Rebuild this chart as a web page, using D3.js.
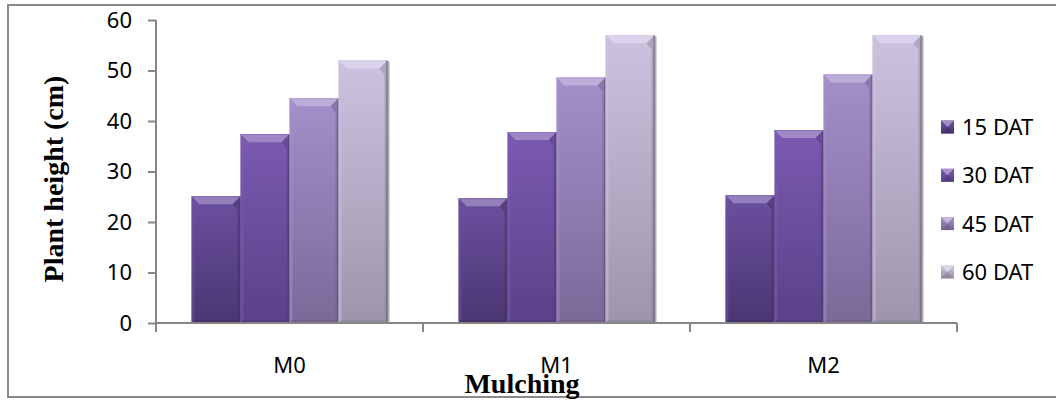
<!DOCTYPE html>
<html>
<head>
<meta charset="utf-8">
<script src="https://cdn.jsdelivr.net/npm/d3@7/dist/d3.min.js"></script>
<style>
  html, body { margin: 0; padding: 0; background: #fff; }
  svg { display: block; }
</style>
</head>
<body>
<svg id="chart" width="1056" height="400"></svg>
<script>
// Plant height by mulching treatment and days after transplanting
const categories = ["M0", "M1", "M2"];
const seriesNames = ["15 DAT", "30 DAT", "45 DAT", "60 DAT"];
const dat15 = [25.1, 24.7, 25.3];
const dat30 = [37.4, 37.8, 38.2];
const dat45 = [44.5, 48.6, 49.2];
const dat60 = [52.0, 57.0, 57.0];
const yTicks = [0, 10, 20, 30, 40, 50, 60];
const yTitle = "Plant height (cm)";
const xTitle = "Mulching";

const seriesValues = [dat15, dat30, dat45, dat60];

// gradient colours per series: top of bar, bottom of bar
const palette = [
  { top: "#6b50a0", bottom: "#4b3672" },
  { top: "#7b5ab1", bottom: "#5a4188" },
  { top: "#a48fca", bottom: "#7b6999" },
  { top: "#ccc2e0", bottom: "#9e95ac" }
];

const svg = d3.select("#chart");
const defs = svg.append("defs");

palette.forEach((p, i) => {
  const g = defs.append("linearGradient")
    .attr("id", "grad" + i).attr("x1", 0).attr("y1", 0).attr("x2", 0).attr("y2", 1);
  g.append("stop").attr("offset", "0%").attr("stop-color", p.top);
  g.append("stop").attr("offset", "100%").attr("stop-color", p.bottom);
});

// outer frame
svg.append("path")
  .attr("d", "M1060,5 H8 V397 H1060")
  .attr("fill", "none").attr("stroke", "#8a8a8a").attr("stroke-width", 2);

const plot = { left: 156, right: 957, top: 20, bottom: 323 };

const y = d3.scaleLinear().domain([0, 60]).range([plot.bottom, plot.top]);
const x0 = d3.scaleBand().domain(categories).range([plot.left, plot.right]);
const groupPad = 0.133;
const x1 = d3.scaleBand().domain(seriesNames)
  .range([x0.bandwidth() * groupPad, x0.bandwidth() * (1 - groupPad)]);

// bars
const bevel = 8;
const side = 3;
const barData = [];
categories.forEach((c, ci) => {
  seriesNames.forEach((s, si) => {
    barData.push({ cat: c, ser: s, si: si, value: seriesValues[si][ci] });
  });
});

const bars = svg.append("g").selectAll("g").data(barData).join("g");

bars.each(function(d) {
  const g = d3.select(this);
  const xa = x0(d.cat) + x1(d.ser);
  const xb = xa + x1.bandwidth();
  const ya = y(d.value);
  const yb = y(0);
  const p = palette[d.si];
  const light = d3.interpolateRgb(p.top, "#ffffff")(0.28);
  const dark = d3.interpolateRgb(p.bottom, "#000000")(0.12);

  // soft shadow on right
  g.append("rect")
    .attr("x", xa + 1).attr("y", ya + 1)
    .attr("width", xb - xa + 1).attr("height", yb - ya - 1)
    .attr("fill", "#5a5560").attr("opacity", 0.5);
  // body
  g.append("rect")
    .attr("x", xa).attr("y", ya)
    .attr("width", xb - xa).attr("height", yb - ya)
    .attr("fill", "url(#grad" + d.si + ")");
  // top bevel face
  g.append("polygon")
    .attr("points", [[xa, ya], [xb, ya], [xb - bevel, ya + bevel], [xa + bevel, ya + bevel]].join(" "))
    .attr("fill", light);
  // top edge highlight
  g.append("line")
    .attr("x1", xa).attr("x2", xb).attr("y1", ya + 0.5).attr("y2", ya + 0.5)
    .attr("stroke", d3.interpolateRgb(p.top, "#ffffff")(0.15)).attr("stroke-width", 1);
  // left side face
  g.append("polygon")
    .attr("points", [[xa, ya], [xa + bevel, ya + bevel], [xa + side, ya + bevel + 6], [xa + side, yb - side], [xa, yb]].join(" "))
    .attr("fill", p.top).attr("opacity", 0.5);
  // right side face
  g.append("polygon")
    .attr("points", [[xb, ya], [xb - bevel, ya + bevel], [xb - side, ya + bevel + 6], [xb - side, yb - side], [xb, yb]].join(" "))
    .attr("fill", dark).attr("opacity", 0.45);
  // bottom face
  g.append("polygon")
    .attr("points", [[xa, yb], [xa + side, yb - side], [xb - side, yb - side], [xb, yb]].join(" "))
    .attr("fill", dark).attr("opacity", 0.6);
  // thin right outline
  g.append("line")
    .attr("x1", xb - 0.5).attr("x2", xb - 0.5).attr("y1", ya).attr("y2", yb)
    .attr("stroke", "#3e3848").attr("stroke-opacity", 0.55);
});

// axes
const axisColor = "#868686";
const yAxis = svg.append("g")
  .attr("transform", `translate(${plot.left},0)`)
  .call(d3.axisLeft(y).tickValues(yTicks).tickSize(8).tickPadding(16).tickFormat(d3.format("d")));
yAxis.select(".domain").attr("d", `M0,${plot.top}V${plot.bottom}`);

const xAxis = svg.append("g")
  .attr("transform", `translate(0,${plot.bottom})`)
  .call(d3.axisBottom(x0).tickSize(0).tickPadding(34));
xAxis.select(".domain").attr("d", `M${plot.left},0H${plot.right}`);

// category boundary ticks
const bounds = categories.map(c => x0(c)).concat([x0(categories[categories.length - 1]) + x0.bandwidth()]);
xAxis.selectAll(".bound").data(bounds).join("line")
  .attr("class", "bound")
  .attr("x1", d => d).attr("x2", d => d).attr("y1", 0).attr("y2", 9)
  .attr("stroke", axisColor).attr("stroke-width", 2);

[yAxis, xAxis].forEach(a => {
  a.select(".domain").attr("stroke", axisColor).attr("stroke-width", 2);
  a.selectAll(".tick line").attr("stroke", axisColor).attr("stroke-width", 2);
  a.selectAll("text")
    .attr("font-family", "'Noto Sans', sans-serif")
    .attr("font-size", 22).attr("fill", "#000");
});

// axis titles
svg.append("text")
  .attr("transform", "translate(63,179) rotate(-90)")
  .attr("text-anchor", "middle")
  .attr("font-family", "'Liberation Serif', 'Times New Roman', serif")
  .attr("font-weight", "bold").attr("font-size", 28)
  .text(yTitle);

svg.append("text")
  .attr("x", 522).attr("y", 393)
  .attr("text-anchor", "middle")
  .attr("font-family", "'Liberation Serif', 'Times New Roman', serif")
  .attr("font-weight", "bold").attr("font-size", 28)
  .text(xTitle);

// legend
const legend = svg.append("g").attr("transform", "translate(941,127)");
const rowStep = 48.3;
const sq = 13;
const items = legend.selectAll("g").data(seriesNames).join("g")
  .attr("transform", (d, i) => `translate(0,${i * rowStep})`);
items.each(function(d, i) {
  const g = d3.select(this);
  const p = palette[i];
  g.append("rect").attr("x", 0).attr("y", -sq / 2).attr("width", sq).attr("height", sq)
    .attr("fill", "url(#grad" + i + ")");
  g.append("polygon")
    .attr("points", [[0, -sq / 2], [sq, -sq / 2], [sq / 2, 0]].join(" "))
    .attr("fill", d3.interpolateRgb(p.top, "#ffffff")(0.35));
  g.append("polygon")
    .attr("points", [[0, sq / 2], [sq, sq / 2], [sq / 2, 0]].join(" "))
    .attr("fill", d3.interpolateRgb(p.bottom, "#000000")(0.1)).attr("opacity", 0.7);
  g.append("text")
    .attr("x", 21).attr("y", 0).attr("dy", "0.36em")
    .attr("font-family", "'Noto Sans', sans-serif")
    .attr("font-size", 22).attr("fill", "#000")
    .text(d);
});
</script>
</body>
</html>
